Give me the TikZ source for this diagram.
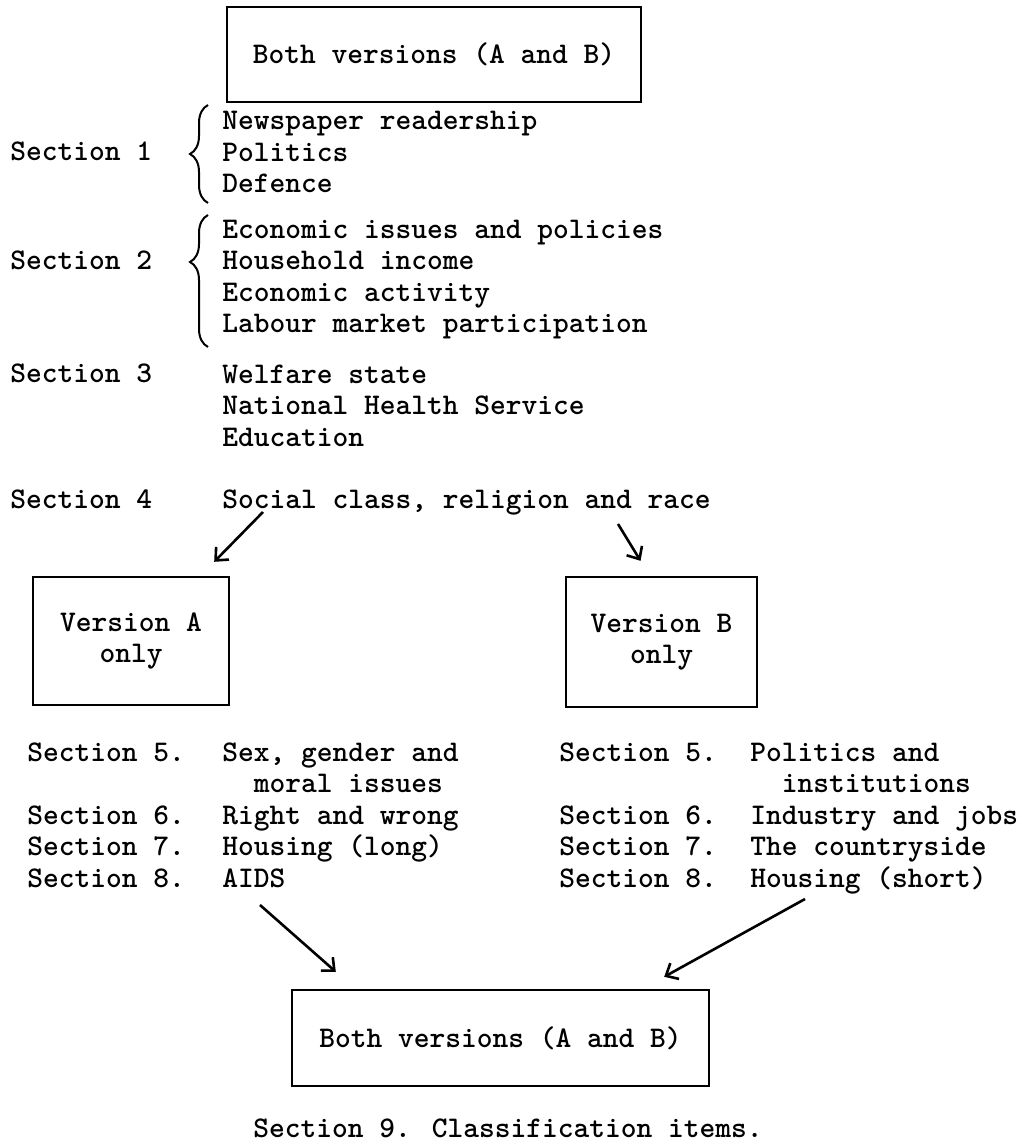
\documentclass[tikz,border=0pt]{standalone}
\usepackage{tikz}
\usetikzlibrary{arrows.meta,decorations.pathreplacing}
\newcommand{\tfont}{\ttfamily\bfseries\fontsize{15}{15.75}\selectfont}

\begin{document}
\begin{tikzpicture}[
  x=0.5pt, y=-0.5pt,
  box/.style={draw, line width=1.2pt, align=center, font=\tfont, inner sep=0pt},
  txt/.style={anchor=base west, align=left, font=\tfont, inner sep=0pt},
  flow/.style={-{Straight Barb[length=5pt,width=9pt]}, line width=1.3pt},
  brc/.style={decorate, decoration={brace, amplitude=9pt}, line width=1pt}
]
\useasboundingbox (0,0) rectangle (1029,1143);

\node[box, minimum width=207pt, minimum height=47.5pt] (both1) at (434,54.5) {Both versions (A and B)};

% multi-line nodes sit on the baseline of their last line
\node[txt] (s1lab) at (10,161) {Section 1};
\node[txt] (s1items) at (222,193) {Newspaper readership\\Politics\\Defence};
\draw[brc] (208,203) -- (208,105);

\node[txt] (s2lab) at (10,270) {Section 2};
\node[txt] (s2items) at (222,333) {Economic issues and policies\\Household income\\Economic activity\\Labour market participation};
\draw[brc, decoration={aspect=0.644}] (208,347) -- (208,215);

\node[txt] (s3lab) at (10,383) {Section 3};
\node[txt] (s3items) at (222,446) {Welfare state\\National Health Service\\Education};

\node[txt] (s4lab) at (10,508) {Section 4};
\node[txt] (s4items) at (222,508) {Social class, religion and race};

\node[box, minimum width=98pt, minimum height=64pt] (verA) at (131,641) {Version A\\only};
\node[box, minimum width=95.5pt, minimum height=65pt] (verB) at (661.5,642) {Version B\\only};

% version A sections
\node[txt] (alab) at (27,887) {Section 5.\\[15.75pt]Section 6.\\Section 7.\\Section 8.};
\node[txt] (aitems) at (222,887) {Sex, gender and\\\phantom{Se}moral issues\\Right and wrong\\Housing (long)\\AIDS};

% version B sections
\node[txt] (blab) at (559,887) {Section 5.\\[15.75pt]Section 6.\\Section 7.\\Section 8.};
\node[txt] (bitems) at (750,887) {Politics and\\\phantom{in}institutions\\Industry and jobs\\The countryside\\Housing (short)};

\node[box, minimum width=208.5pt, minimum height=48pt] (both2) at (500.5,1038) {Both versions (A and B)};
\node[txt] (s9) at (253,1137) {Section 9. Classification items.};

\coordinate (s4a) at (263,512);
\coordinate (s4b) at (618,524);
\coordinate (s8a) at (260,905);
\coordinate (s8b) at (805,899);

\draw[flow] (s4a) -- ([shift={(-16,-14)}]verA.north east);
\draw[flow] (s4b) -- ([shift={(-21,-15)}]verB.north);
\draw[flow] (s8a) -- ([shift={(45,-17)}]both2.north west);
\draw[flow] (s8b) -- ([shift={(-46,-12)}]both2.north east);
\end{tikzpicture}
\end{document}
